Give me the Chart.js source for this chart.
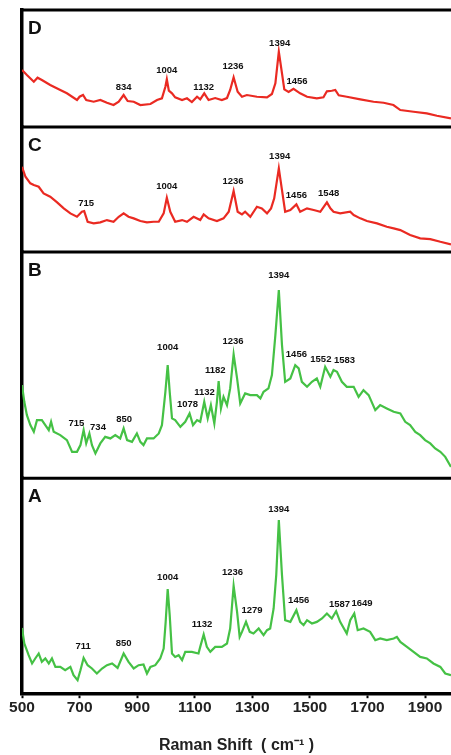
<!DOCTYPE html>
<html>
<head>
<meta charset="utf-8">
<script src="https://cdn.jsdelivr.net/npm/chart.js@4"></script>
<style>
  html, body { margin: 0; padding: 0; background: #fff; }
</style>
</head>
<body>
<canvas id="ramanChart" width="451" height="755"></canvas>
<script>
// spectrum D
const dShift = [500,517,541,554,569,598,633,656,691,700,712,723,749,772,795,818,836,853,867,888,911,946,969,986,998,1003,1010,1021,1032,1056,1073,1090,1108,1119,1133,1148,1171,1194,1212,1223,1235,1249,1264,1281,1316,1351,1368,1380,1392,1403,1411,1426,1443,1466,1490,1524,1547,1559,1576,1588,1600,1628,1675,1721,1756,1790,1814,1860,1906,1941,1990];
const dIntensity = [57,52,45.3,49.3,47,42,37,33.7,27,30.3,32,27,25.3,27,24.3,22,25.3,32,26,25.3,22,23,27,28.7,40.3,47.7,36.3,33.7,29.7,27,28.7,25,30.3,27.7,33.7,27,29,27,29,37,49.7,35.3,30.3,32,30.3,29.7,33,43.7,75.3,53.7,37.7,35,38.3,33.7,30.3,28.7,29.7,35.7,36.3,37,31.7,30.3,27.7,25.3,24.3,22,17,15.3,13.7,11.3,8.7];
const dPeaks = [["834",853,39.7],["1004",1003,57],["1132",1131,39.7],["1236",1233,60.3],["1394",1395,83.7],["1456",1455,45.3]];

// spectrum C
const cShift = [500,512,529,541,558,575,598,622,645,668,691,708,716,728,749,772,795,818,836,853,870,888,911,934,957,975,992,1003,1015,1032,1056,1073,1096,1119,1131,1148,1177,1200,1218,1235,1249,1264,1275,1293,1316,1333,1351,1365,1376,1392,1403,1414,1432,1453,1466,1490,1513,1536,1559,1571,1582,1605,1640,1652,1675,1698,1733,1767,1791,1814,1848,1883,1918,1953,1990];
const cIntensity = [85.3,75.3,68.7,67,65.3,58.7,55.3,49.7,43.7,38.7,35.3,40.3,41,30.3,28.7,29.7,32,30.3,35.3,38.7,35.3,33.7,31,29.7,30.3,30.3,38.7,54.3,40.3,30.3,32,30.3,35.3,32,37.7,33.7,31,33.7,40.3,61,40.3,37.7,40.3,35.3,45.3,43.7,38.7,43.7,53.7,83.7,62,40.3,42,47.7,40.3,43.7,42,40.3,49.7,43.7,40.3,38.7,40.3,37,33.7,31,28.7,25.3,23.7,22,17,13.7,13,10.3,7.7];
const cPeaks = [["715",723,48.7],["1004",1003,66],["1236",1233,70.3],["1394",1395,95.3],["1456",1453,56.3],["1548",1565,58.7]];

// spectrum B
const bShift = [500,508,517,529,541,552,569,581,593,601,610,633,656,674,691,703,714,723,734,743,755,772,789,807,824,841,853,865,882,899,911,922,934,957,975,986,998,1006,1013,1021,1032,1050,1067,1082,1094,1108,1119,1133,1145,1156,1168,1177,1183,1191,1200,1212,1223,1235,1247,1258,1275,1293,1316,1328,1339,1356,1368,1380,1392,1403,1414,1432,1449,1461,1472,1490,1507,1524,1536,1553,1571,1582,1594,1611,1628,1652,1669,1686,1704,1727,1744,1767,1791,1814,1831,1848,1866,1883,1900,1918,1935,1953,1970,1990];
const bIntensity = [93,76.3,63,53,46.3,58,58,53,48,56.3,46.3,43,38,26.3,26.3,33,48,34.7,44.7,33,24.7,34.7,41.3,39.7,43,39.7,49.7,38,36.3,44.7,36.3,33,39.7,39.7,44.7,53,86.3,113,86.3,59.7,58,51.3,56.3,64.7,53,58,56.3,76.3,59.7,73,54.7,76.3,97,69.7,81.3,73,89.7,123.7,99.7,74.7,84.7,83,83,79.7,86.3,89.7,103,143,188,133,96.3,99.7,113,109.7,96.3,91.3,96.3,99.7,91.3,111.3,101.3,108,106.3,96.3,91.3,91.3,81.3,88,83,68,73,69.7,66.3,64.7,56.3,53,46.3,43,38,34.7,29.7,26.3,21.3,11.3];
const bPeaks = [["715",689,54.7],["734",764,50.7],["850",855,58.7],["1004",1006,130.7],["1078",1075,73.7],["1132",1134,85.3],["1182",1171,108],["1236",1233,136.3],["1394",1392,203],["1456",1453,124],["1552",1538,119],["1583",1620,118]];

// spectrum A
const aShift = [500,508,523,535,546,558,569,581,593,604,616,633,650,668,679,693,703,714,728,743,760,778,795,813,832,853,870,888,905,922,934,946,963,980,992,999,1006,1013,1021,1032,1044,1056,1067,1090,1113,1119,1131,1142,1154,1171,1194,1212,1223,1235,1247,1256,1264,1278,1291,1304,1322,1339,1351,1362,1374,1383,1392,1403,1414,1432,1453,1466,1478,1490,1507,1524,1542,1559,1576,1591,1605,1628,1640,1654,1666,1686,1709,1727,1744,1767,1791,1802,1814,1837,1860,1883,1906,1929,1953,1970,1990];
const aIntensity = [66.3,50.7,39,30.7,35.7,40.7,32.3,35.7,30.7,35.7,27.3,27.3,24,27.3,19,14,24,36.3,29,25.7,20.7,25.7,29,30.7,26.3,40.7,32.3,25.7,29,29.7,20.7,27.3,29,35.7,45.7,72.3,105,79,40.7,37.3,39,34,42.3,42.3,40.7,47.3,59.7,47.3,42.3,47.3,47.3,50.7,65.7,108.3,82.3,57.3,62.3,72.3,62.3,60.7,65.7,59,64,65.7,85.7,119,174,119,74,72.3,84,72.3,69,74,70.7,72.3,75.7,80.7,75.7,83,72.3,60.7,74,80.7,64,65.7,62.3,54,55.7,54,55.7,57.3,52.3,47.3,42.3,37.3,35.7,30.7,27.3,20.7,19];
const aPeaks = [["711",712,48],["850",853,51.3],["1004",1006,116.7],["1132",1125,70],["1236",1231,121.3],["1279",1299,84],["1394",1392,184.7],["1456",1461,94],["1587",1603,90],["1649",1681,90.7]];

const xTicks = [500, 700, 900, 1100, 1300, 1500, 1700, 1900];
const FONT = "'Liberation Sans', Arial, sans-serif";
const RED = "#ea2a22";
const GREEN = "#45c145";

// top to bottom
const panels = [
    { letter: "D", axis: "yD", shift: dShift, values: dIntensity, peaks: dPeaks, color: RED, range: 117 },
    { letter: "C", axis: "yC", shift: cShift, values: cIntensity, peaks: cPeaks, color: RED, range: 125 },
    { letter: "B", axis: "yB", shift: bShift, values: bIntensity, peaks: bPeaks, color: GREEN, range: 226 },
    { letter: "A", axis: "yA", shift: aShift, values: aIntensity, peaks: aPeaks, color: GREEN, range: 216 }
];

const datasets = panels.map(p => ({
    label: p.letter,
    data: p.shift.map((x, i) => ({ x: x, y: p.values[i] })),
    yAxisID: p.axis,
    borderColor: p.color,
    borderWidth: 2.2,
    pointRadius: 0,
    tension: 0,
    fill: false
}));

const scales = {
    x: {
        type: "linear",
        min: 500,
        max: 1990,
        afterBuildTicks: scale => { scale.ticks = xTicks.map(v => ({ value: v })); },
        ticks: {
            color: "#222",
            font: { family: FONT, size: 15.5, weight: "bold" },
            padding: 0,
            maxRotation: 0,
            callback: v => String(v)
        },
        grid: { drawOnChartArea: false, drawTicks: true, tickLength: 4, tickWidth: 2, color: "#000" },
        border: { display: true, color: "#000", width: 3.5 },
        title: {
            display: true,
            text: "Raman Shift  ( cm\u207B\u00B9 )",
            color: "#222",
            font: { family: FONT, size: 16, weight: "bold" },
            padding: { top: 19, bottom: 0 }
        }
    }
};

// y axes are stacked; the layout places the last defined one on top
panels.slice().reverse().forEach(p => {
    scales[p.axis] = {
        type: "linear",
        position: "left",
        stack: "panels",
        stackWeight: p.range,
        min: 0,
        max: p.range,
        ticks: { display: false },
        grid: { display: false, drawTicks: false },
        border: { display: true, color: "#000", width: 3.5 }
    };
});

const panelDecor = {
    id: "panelDecor",
    afterDraw(chart) {
        const ctx = chart.ctx;
        const area = chart.chartArea;
        const xs = chart.scales.x;
        ctx.save();
        panels.forEach(p => {
            const ys = chart.scales[p.axis];
            ctx.strokeStyle = "#000";
            ctx.lineWidth = 3;
            ctx.beginPath();
            ctx.moveTo(area.left - 1.75, ys.top);
            ctx.lineTo(area.right, ys.top);
            ctx.stroke();

            ctx.fillStyle = "#111";
            ctx.textBaseline = "middle";
            ctx.textAlign = "left";
            ctx.font = "bold 19px " + FONT;
            ctx.fillText(p.letter, area.left + 6, ys.top + 19);

            ctx.textAlign = "center";
            ctx.font = "bold 9.5px " + FONT;
            p.peaks.forEach(([txt, x, y]) => {
                ctx.fillText(txt, xs.getPixelForValue(x), ys.getPixelForValue(y));
            });
        });
        ctx.restore();
    }
};

new Chart(document.getElementById("ramanChart"), {
    type: "line",
    data: { datasets: datasets },
    options: {
        responsive: false,
        animation: false,
        devicePixelRatio: 1,
        layout: { padding: { left: 22, top: 10, right: 0, bottom: 0 } },
        plugins: { legend: { display: false }, tooltip: { enabled: false } },
        scales: scales
    },
    plugins: [panelDecor]
});
</script>
</body>
</html>
